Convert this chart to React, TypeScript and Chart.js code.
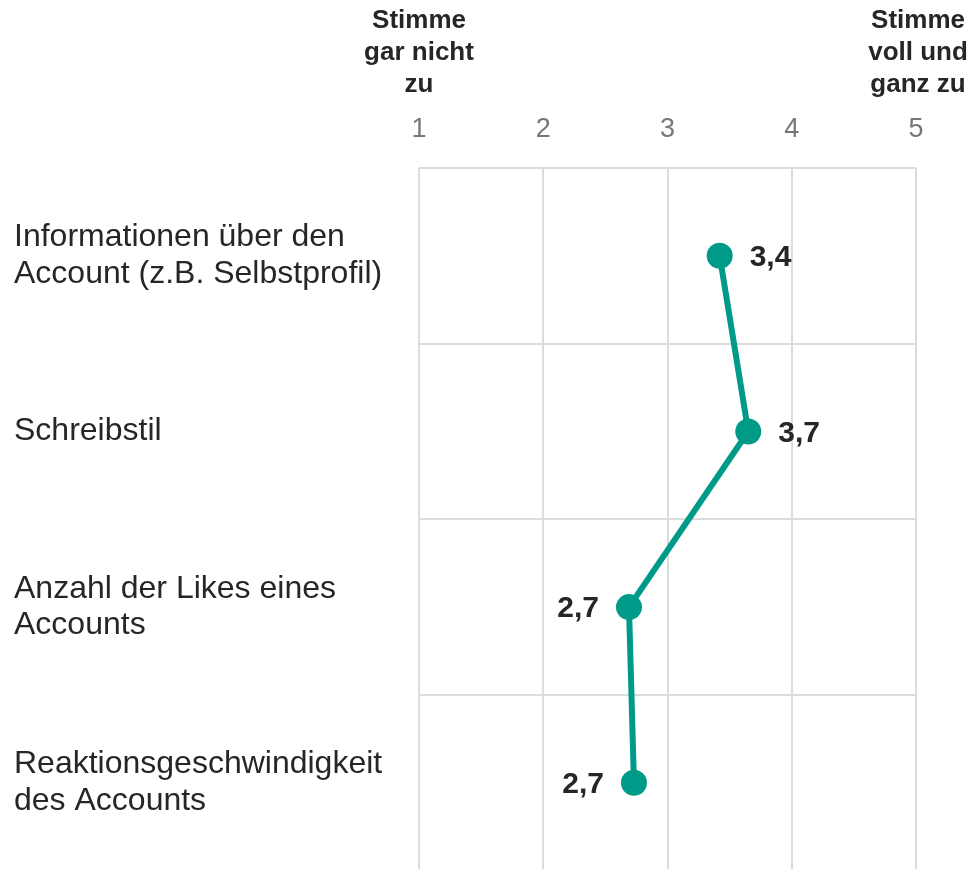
import React, { useEffect, useRef } from "react";
import { Chart, registerables } from "chart.js";

Chart.register(...registerables);

const categories: string[][] = [
  ["Informationen über den", "Account (z.B. Selbstprofil)"],
  ["Schreibstil"],
  ["Anzahl der Likes eines", "Accounts"],
  ["Reaktionsgeschwindigkeit", "des Accounts"],
];
const values: number[] = [3.42, 3.65, 2.69, 2.73];
const valueLabels: string[] = ["3,4", "3,7", "2,7", "2,7"];
const labelSides: string[] = ["right", "right", "left", "left"];
const scaleMin = 1;
const scaleMax = 5;
const leftAnchorLines: string[] = ["Stimme", "gar nicht", "zu"];
const rightAnchorLines: string[] = ["Stimme", "voll und", "ganz zu"];

const FONT = '"Liberation Sans", Arial, Helvetica, sans-serif';
const TEAL = "#009a88";
const TEXT = "#262626";
const GRID = "#dcdcdc";

const overlayPlugin = {
  id: "overlay",
  afterDatasetsDraw(chart: any) {
    const ctx = chart.ctx;
    const meta = chart.getDatasetMeta(0);
    ctx.save();
    ctx.fillStyle = TEXT;
    ctx.font = `bold 30px ${FONT}`;
    ctx.textBaseline = "middle";
    meta.data.forEach((pt: any, i: number) => {
      const side = labelSides[i];
      if (side === "right") {
        ctx.textAlign = "left";
        ctx.fillText(valueLabels[i], pt.x + 30, pt.y + 2);
      } else {
        ctx.textAlign = "right";
        ctx.fillText(valueLabels[i], pt.x - 30, pt.y + 2);
      }
    });
    // anchor headings
    const xs = chart.scales.x;
    const top = chart.chartArea.top;
    ctx.font = `bold 26px ${FONT}`;
    ctx.textAlign = "center";
    const lineGap = 32;
    const firstY = top - 147;
    leftAnchorLines.forEach((t, i) => {
      ctx.fillText(t, xs.getPixelForValue(scaleMin), firstY + i * lineGap);
    });
    rightAnchorLines.forEach((t, i) => {
      ctx.fillText(t, xs.getPixelForValue(scaleMax) + 2, firstY + i * lineGap);
    });
    ctx.restore();
  },
};

export default function App() {
  const ref = useRef<HTMLCanvasElement | null>(null);
  useEffect(() => {
    if (!ref.current) return;
    const chart = new Chart(ref.current, {
      type: "line",
      data: {
        labels: categories,
        datasets: [
          {
            data: values,
            borderColor: TEAL,
            backgroundColor: TEAL,
            borderWidth: 6,
            pointRadius: 13,
            pointHoverRadius: 13,
            pointBackgroundColor: TEAL,
            pointBorderWidth: 0,
            tension: 0,
            fill: false,
          },
        ],
      },
      options: {
        indexAxis: "y",
        responsive: false,
        animation: false,
        events: [],
        layout: { padding: { left: 14, right: 55, top: 0, bottom: 0 } },
        plugins: {
          legend: { display: false },
          tooltip: { enabled: false },
        },
        scales: {
          x: {
            type: "linear",
            position: "top",
            min: scaleMin,
            max: scaleMax,
            ticks: {
              stepSize: 1,
              color: "#777777",
              font: { family: FONT, size: 27 },
              padding: 22,
            },
            grid: { color: GRID, lineWidth: 2, drawTicks: false },
            border: { display: false },
            afterFit: (s: any) => {
              s.height = 168;
            },
          },
          y: {
            type: "category",
            offset: true,
            ticks: {
              color: TEXT,
              font: { family: FONT, size: 32, lineHeight: 1.14 },
              crossAlign: "far",
              padding: 0,
              autoSkip: false,
            },
            grid: { color: GRID, lineWidth: 2, drawTicks: false, offset: true },
            border: { display: false },
            afterFit: (s: any) => {
              s.width = 405;
            },
          },
        },
      } as any,
      plugins: [overlayPlugin],
    });
    return () => chart.destroy();
  }, []);
  return (
    <div
      style={{
        position: "fixed",
        left: 0,
        top: 0,
        width: 971,
        height: 869,
        overflow: "hidden",
        background: "#ffffff",
      }}
    >
      <canvas ref={ref} width={971} height={907} style={{ display: "block", width: 971, height: 907 }} />
    </div>
  );
}
